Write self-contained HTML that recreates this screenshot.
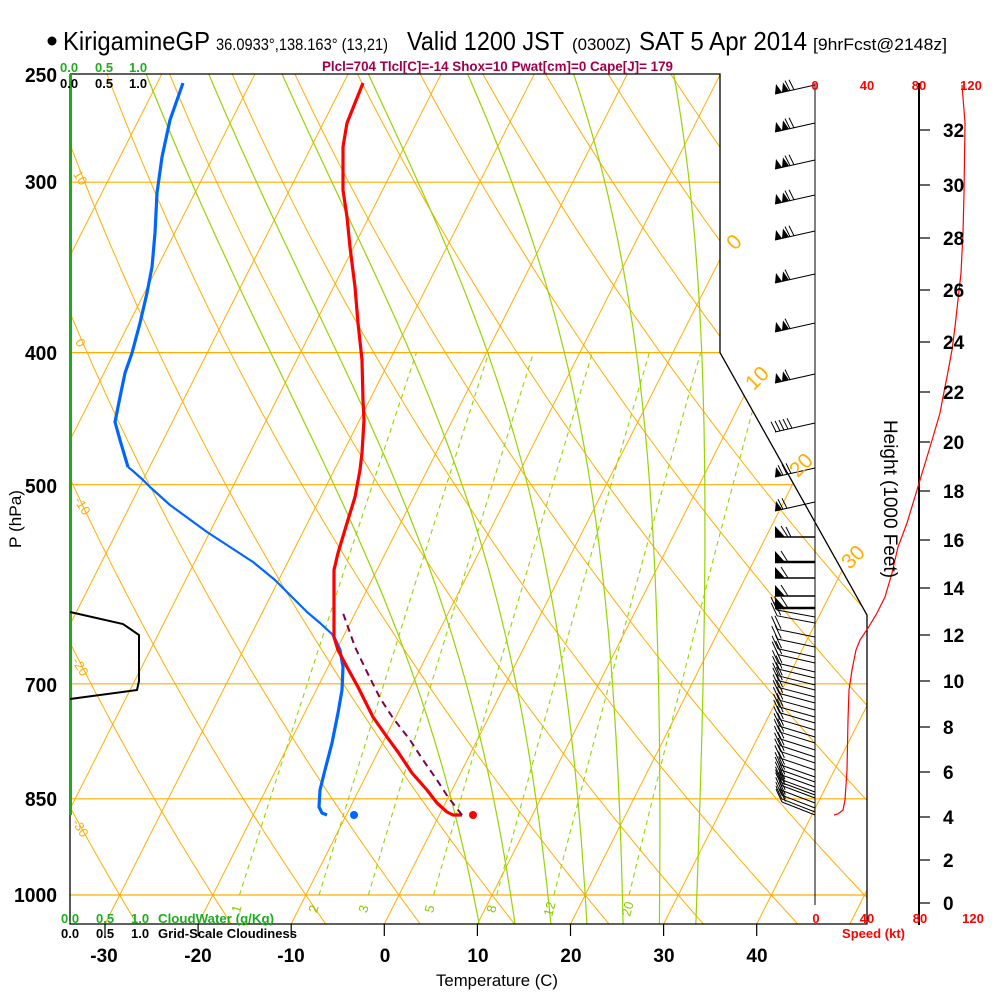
<!DOCTYPE html>
<html><head><meta charset="utf-8">
<style>
html,body{margin:0;padding:0;background:#fff;}
svg{display:block;font-family:"Liberation Sans",Arial,sans-serif;}
</style></head><body>
<svg id="s" width="1000" height="1000" viewBox="0 0 1000 1000" xmlns="http://www.w3.org/2000/svg">
<defs><clipPath id="c"><polygon points="70,74 720,74 720,352.6 867,615 867,924 70,924"/></clipPath></defs>
<rect x="0" y="0" width="1000" height="1000" fill="#fff"/>
<g id="bg" clip-path="url(#c)"></g>

<!-- frame -->
<polyline points="70,74 720,74 720,352.6 867,615 867,924 70,924 70,74" fill="none" stroke="#000" stroke-width="1.3"/>
<line x1="70.5" y1="74" x2="70.5" y2="815" stroke="#1eaa1e" stroke-width="3"/>
<line x1="815" y1="83" x2="815" y2="905" stroke="#000" stroke-width="1"/>
<line x1="919" y1="83" x2="919" y2="925" stroke="#000" stroke-width="2"/>

<!-- temperature ticks -->
<g stroke="#000" stroke-width="1.2">
<line x1="105" y1="924" x2="105" y2="936"/><line x1="198.1" y1="924" x2="198.1" y2="936"/>
<line x1="291.2" y1="924" x2="291.2" y2="936"/><line x1="384.3" y1="924" x2="384.3" y2="936"/>
<line x1="477.4" y1="924" x2="477.4" y2="936"/><line x1="570.5" y1="924" x2="570.5" y2="936"/>
<line x1="663.6" y1="924" x2="663.6" y2="936"/><line x1="756.7" y1="924" x2="756.7" y2="936"/>
</g>
<!-- height ticks -->
<g stroke="#000" stroke-width="1.2">
<line x1="919" y1="130" x2="930" y2="130"/><line x1="919" y1="185" x2="930" y2="185"/>
<line x1="919" y1="238" x2="930" y2="238"/><line x1="919" y1="290" x2="930" y2="290"/>
<line x1="919" y1="342" x2="930" y2="342"/><line x1="919" y1="392" x2="930" y2="392"/>
<line x1="919" y1="442" x2="930" y2="442"/><line x1="919" y1="491" x2="930" y2="491"/>
<line x1="919" y1="540" x2="930" y2="540"/><line x1="919" y1="588" x2="930" y2="588"/>
<line x1="919" y1="635" x2="930" y2="635"/><line x1="919" y1="681" x2="930" y2="681"/>
<line x1="919" y1="727" x2="930" y2="727"/><line x1="919" y1="772" x2="930" y2="772"/>
<line x1="919" y1="817" x2="930" y2="817"/><line x1="919" y1="860" x2="930" y2="860"/>
<line x1="919" y1="903" x2="930" y2="903"/>
</g>

<!-- cloudiness -->
<polyline points="70,612 123,624 139,635 139,681 137,690 70,699" fill="none" stroke="#000" stroke-width="2"/>

<!-- wind speed profile -->
<polyline points="962,85 964,110 965,123 964,193 963,233 961,273 958,300 955,327 952,350 947,377 943,397 940,413 933,437 927,457 920,480 917,490 907,523 898,547 892,573 885,597 877,613 868,628 860,640 856,650 852,670 849,690 848,720 847,770 845,800 843,810 838,814 834,815" fill="none" stroke="#ff0000" stroke-width="1.2"/>

<!-- dewpoint -->
<polyline points="183,83 170,120 162,157 157,193 155,233 152,267 147,293 140,323 132,353 125,373 120,397 115,422 120,440 128,467" fill="none" stroke="#0066ff" stroke-width="3.2" stroke-linejoin="round"/>
<polyline points="128,467 133,471 143,480 150,487 170,505 207,532 253,562 275,580 293,598 307,612 320,623 333,635" fill="none" stroke="#0066ff" stroke-width="2.2" stroke-linejoin="round"/>
<polyline points="333,635 340,650 343,667 342,690 338,713 332,743 325,770 320,790 319,807 322,813 327,815" fill="none" stroke="#0066ff" stroke-width="3.2" stroke-linejoin="round"/>
<!-- temperature -->
<polyline points="363,83 347,123 343,147 343,190 347,217 350,247 355,287 358,323 362,360 363,400 364,420 362,453 360,470 355,497 347,523 338,553 334,570 334,637 338,650 347,667 358,687 373,717 387,737 398,752 412,773 427,790 437,803 447,812 453,815 462,815" fill="none" stroke="#ff0000" stroke-width="3.2" stroke-linejoin="round"/>
<!-- parcel -->
<polyline points="462,815 448,797 437,780 423,760 410,740 393,718 380,698 367,672 355,647 343,613" fill="none" stroke="#800050" stroke-width="2" stroke-dasharray="7,5"/>
<circle cx="473" cy="815" r="4" fill="#ff0000"/>
<circle cx="354" cy="815" r="4" fill="#0066ff"/>

<g id="wb"></g>

<!-- header -->
<circle cx="52" cy="41" r="4.5" fill="#000"/>
<text x="63" y="50" font-size="26" textLength="147" lengthAdjust="spacingAndGlyphs">KirigamineGP</text>
<text x="216" y="50" font-size="17" textLength="172" lengthAdjust="spacingAndGlyphs">36.0933°,138.163° (13,21)</text>
<text x="407" y="50" font-size="26" textLength="157" lengthAdjust="spacingAndGlyphs">Valid 1200 JST</text>
<text x="572" y="50" font-size="17" textLength="59" lengthAdjust="spacingAndGlyphs">(0300Z)</text>
<text x="639" y="50" font-size="26" textLength="168" lengthAdjust="spacingAndGlyphs">SAT 5 Apr 2014</text>
<text x="813" y="50" font-size="17" textLength="134" lengthAdjust="spacingAndGlyphs">[9hrFcst@2148z]</text>
<text x="322" y="71" font-size="14" font-weight="bold" fill="#a0004a" textLength="351" lengthAdjust="spacingAndGlyphs">Plcl=704 Tlcl[C]=-14 Shox=10 Pwat[cm]=0 Cape[J]= 179</text>

<!-- top-left scale labels -->
<g font-size="13" font-weight="bold" fill="#22aa22">
<text x="60" y="72">0.0</text><text x="95" y="72">0.5</text><text x="129" y="72">1.0</text>
</g>
<g font-size="13" font-weight="bold" fill="#000">
<text x="60" y="88">0.0</text><text x="95" y="88">0.5</text><text x="129" y="88">1.0</text>
</g>

<!-- pressure labels -->
<g font-size="20" font-weight="bold" text-anchor="end" fill="#000">
<text x="57" y="82" textLength="32" lengthAdjust="spacingAndGlyphs">250</text>
<text x="57" y="189" textLength="32" lengthAdjust="spacingAndGlyphs">300</text>
<text x="57" y="360" textLength="32" lengthAdjust="spacingAndGlyphs">400</text>
<text x="57" y="493" textLength="32" lengthAdjust="spacingAndGlyphs">500</text>
<text x="57" y="692" textLength="32" lengthAdjust="spacingAndGlyphs">700</text>
<text x="57" y="806" textLength="32" lengthAdjust="spacingAndGlyphs">850</text>
<text x="57" y="902" textLength="43" lengthAdjust="spacingAndGlyphs">1000</text>
</g>
<text transform="translate(21,519) rotate(-90)" font-size="17" text-anchor="middle" textLength="58" lengthAdjust="spacingAndGlyphs">P (hPa)</text>

<!-- dry adiabat labels -->
<g font-size="13" fill="#ffad00" text-anchor="middle">
<text transform="translate(80,178) rotate(58)" y="4">10</text>
<text transform="translate(80,343) rotate(58)" y="4">0</text>
<text transform="translate(82,506) rotate(58)" y="4">-10</text>
<text transform="translate(80,667) rotate(58)" y="4">-20</text>
<text transform="translate(80,828) rotate(58)" y="4">-30</text>
</g>
<!-- isotherm labels -->
<g font-size="21" fill="#ffad00" text-anchor="middle">
<text transform="translate(734,242) rotate(-45)" y="7">0</text>
<text transform="translate(757,378) rotate(-45)" y="7">10</text>
<text transform="translate(801,465) rotate(-45)" y="7">20</text>
<text transform="translate(853,557) rotate(-45)" y="7">30</text>
</g>
<!-- mixing ratio labels -->
<g font-size="13" fill="#8cc800" text-anchor="middle">
<text transform="translate(237,909) rotate(-75)" y="4">1</text>
<text transform="translate(314,909) rotate(-75)" y="4">2</text>
<text transform="translate(364,909) rotate(-75)" y="4">3</text>
<text transform="translate(430,909) rotate(-75)" y="4">5</text>
<text transform="translate(492,909) rotate(-75)" y="4">8</text>
<text transform="translate(550,909) rotate(-75)" y="4">12</text>
<text transform="translate(628,909) rotate(-75)" y="4">20</text>
</g>

<!-- bottom rows -->
<g font-size="13" font-weight="bold" fill="#22aa22">
<text x="61" y="923">0.0</text><text x="96" y="923">0.5</text><text x="131" y="923">1.0</text>
<text x="158" y="923" textLength="116" lengthAdjust="spacingAndGlyphs">CloudWater (g/Kg)</text>
</g>
<g font-size="13" font-weight="bold" fill="#000">
<text x="61" y="938">0.0</text><text x="96" y="938">0.5</text><text x="131" y="938">1.0</text>
<text x="158" y="938" textLength="139" lengthAdjust="spacingAndGlyphs">Grid-Scale Cloudiness</text>
</g>
<g font-size="13" font-weight="bold" fill="#ff0000" text-anchor="middle">
<text x="815" y="90">0</text><text x="867" y="90">40</text><text x="919" y="90">80</text><text x="971" y="90">120</text>
<text x="816" y="923">0</text><text x="867" y="923">40</text><text x="920" y="923">80</text><text x="973" y="923">120</text>
</g>
<text x="842" y="938" font-size="13" font-weight="bold" fill="#ff0000" textLength="63" lengthAdjust="spacingAndGlyphs">Speed (kt)</text>

<!-- temperature axis labels -->
<g font-size="19" font-weight="bold" text-anchor="middle" fill="#000">
<text x="104" y="962">-30</text><text x="198" y="962">-20</text><text x="291" y="962">-10</text>
<text x="385" y="962">0</text><text x="478" y="962">10</text><text x="571" y="962">20</text>
<text x="664" y="962">30</text><text x="757" y="962">40</text>
</g>
<text x="436" y="986" font-size="17" textLength="122" lengthAdjust="spacingAndGlyphs">Temperature (C)</text>

<!-- height labels -->
<g font-size="19" font-weight="bold" fill="#000">
<text x="943" y="137">32</text><text x="943" y="192">30</text><text x="943" y="245">28</text>
<text x="943" y="297">26</text><text x="943" y="349">24</text><text x="943" y="399">22</text>
<text x="943" y="449">20</text><text x="943" y="498">18</text><text x="943" y="547">16</text>
<text x="943" y="595">14</text><text x="943" y="642">12</text><text x="943" y="688">10</text>
<text x="943" y="734">8</text><text x="943" y="779">6</text><text x="943" y="824">4</text>
<text x="943" y="867">2</text><text x="943" y="910">0</text>
</g>
<text transform="translate(884,499) rotate(90)" font-size="19" text-anchor="middle" textLength="158" lengthAdjust="spacingAndGlyphs">Height (1000 Feet)</text>
</svg>
<script>
(function(){
var NS="http://www.w3.org/2000/svg";
function Y(p){return 895+592*Math.log(p/1000);}
function X(t,p){return 384.3+9.31*t+0.505*(924-Y(p));}
var bg=document.getElementById('bg');
function path(d,stroke,w,dash,parent){var e=document.createElementNS(NS,'path');e.setAttribute('d',d);e.setAttribute('fill','none');e.setAttribute('stroke',stroke);e.setAttribute('stroke-width',w);if(dash)e.setAttribute('stroke-dasharray',dash);(parent||bg).appendChild(e);}
var OR='#ffad00',GR='#96d400';
var t,p,d;
[300,400,500,700,850,1000].forEach(function(pp){var y=Y(pp).toFixed(1);path('M70 '+y+'H867',OR,1.2);});
for(t=-130;t<=60;t+=10){path('M'+X(t,1050).toFixed(1)+' '+Y(1050).toFixed(1)+'L'+X(t,250).toFixed(1)+' '+Y(250).toFixed(1),OR,1);}
for(var th=-40;th<=170;th+=10){d='';for(p=1050;p>=250;p-=10){var T=(th+273.15)*Math.pow(p/1000,0.2857)-273.15;d+=(d?'L':'M')+X(T,p).toFixed(1)+' '+Y(p).toFixed(1);}path(d,OR,1);}
function es(T){return 6.112*Math.exp(17.67*T/(T+243.5));}
function dTdp(T,p){var Tk=T+273.15;var e=es(T);var rs=0.622*e/(p-e);var Rd=287.04,cp=1005.7,L=2.501e6;return (Rd*Tk+L*rs)/(p*(cp+L*L*rs*0.622/(Rd*Tk*Tk)));}
for(var tw=8;tw<=32;tw+=4){
  var T=tw,q,k1,k2;
  for(q=1000;q<1050;q+=2){k1=dTdp(T,q);k2=dTdp(T+k1*2,q+2);T+=(k1+k2);}
  d='M'+X(T,1050).toFixed(1)+' '+Y(1050).toFixed(1);
  for(q=1050;q>250;q-=2){k1=dTdp(T,q);k2=dTdp(T-k1*2,q-2);T-=(k1+k2);if((q-2)%6===0||q-2===250)d+='L'+X(T,q-2).toFixed(1)+' '+Y(q-2).toFixed(1);}
  path(d,GR,1.2);
}
[1,2,3,5,8,12,20].forEach(function(r){var dd='';for(var pp=1000;pp>=400;pp-=10){var e=r*pp/(622+r);var l=Math.log(e/6.112);var Td=243.5*l/(17.67-l);dd+=(dd?'L':'M')+X(Td,pp).toFixed(1)+' '+Y(pp).toFixed(1);}path(dd,GR,1.1,'5,4');});

var wb=document.getElementById('wb');
function ln(x1,y1,x2,y2,w){var e=document.createElementNS(NS,'line');e.setAttribute('x1',x1);e.setAttribute('y1',y1);e.setAttribute('x2',x2);e.setAttribute('y2',y2);e.setAttribute('stroke','#000');e.setAttribute('stroke-width',w||1);wb.appendChild(e);}
function tri(pts){var e=document.createElementNS(NS,'polygon');e.setAttribute('points',pts.map(function(a){return a[0].toFixed(1)+','+a[1].toFixed(1);}).join(' '));e.setAttribute('fill','#000');wb.appendChild(e);}
var up=[[85,2,2],[123,2,2],[160,2,2],[195,2,2],[231,2,2],[274,2,1],[323,2,1],[374,2,1],[423,0,5],[468,1,3],[502,1,2]];
up.forEach(function(b){var y=b[0];ln(815,y,775,y+9,1.1);var bx=775,by=y+9,k=-9/40;
  for(var i=0;i<b[1];i++){var x0=bx+7*i,y0=by+k*7*i;tri([[x0,y0],[x0+7,y0+k*7],[x0+1,y0-10]]);}
  for(var j=0;j<b[2];j++){var x1=bx+7*b[1]+1+4*j,y1=by+k*(x1-bx);ln(x1,y1,x1-5,y1-10,1);}
});
[537,562,578,596,608].forEach(function(y,idx){ln(775,y,815,y,(idx===1||idx===4)?2.5:1.4);tri([[775,y],[775,y-11],[785,y]]);ln(781,y-11,788,y,1);if(idx===0){ln(786,y-10,791,y,1);}});
var low=[617,623,637,647,657,663,672,678,685,690,697,703,710,717,723,730,737,743,750,757,763,770,777,782,787,792,795,798,803,808,812,815];
low.forEach(function(y){var f=(y-617)/198;var off=7+6*f;var lx=777+5*f;ln(815,y,lx,y-off,1);
  ln(lx,y-off,lx-6,y-off-13,1);ln(lx+3.5,y-off-0.6,lx-2.5,y-off-13.6,1);});
})();
</script>
</body></html>
